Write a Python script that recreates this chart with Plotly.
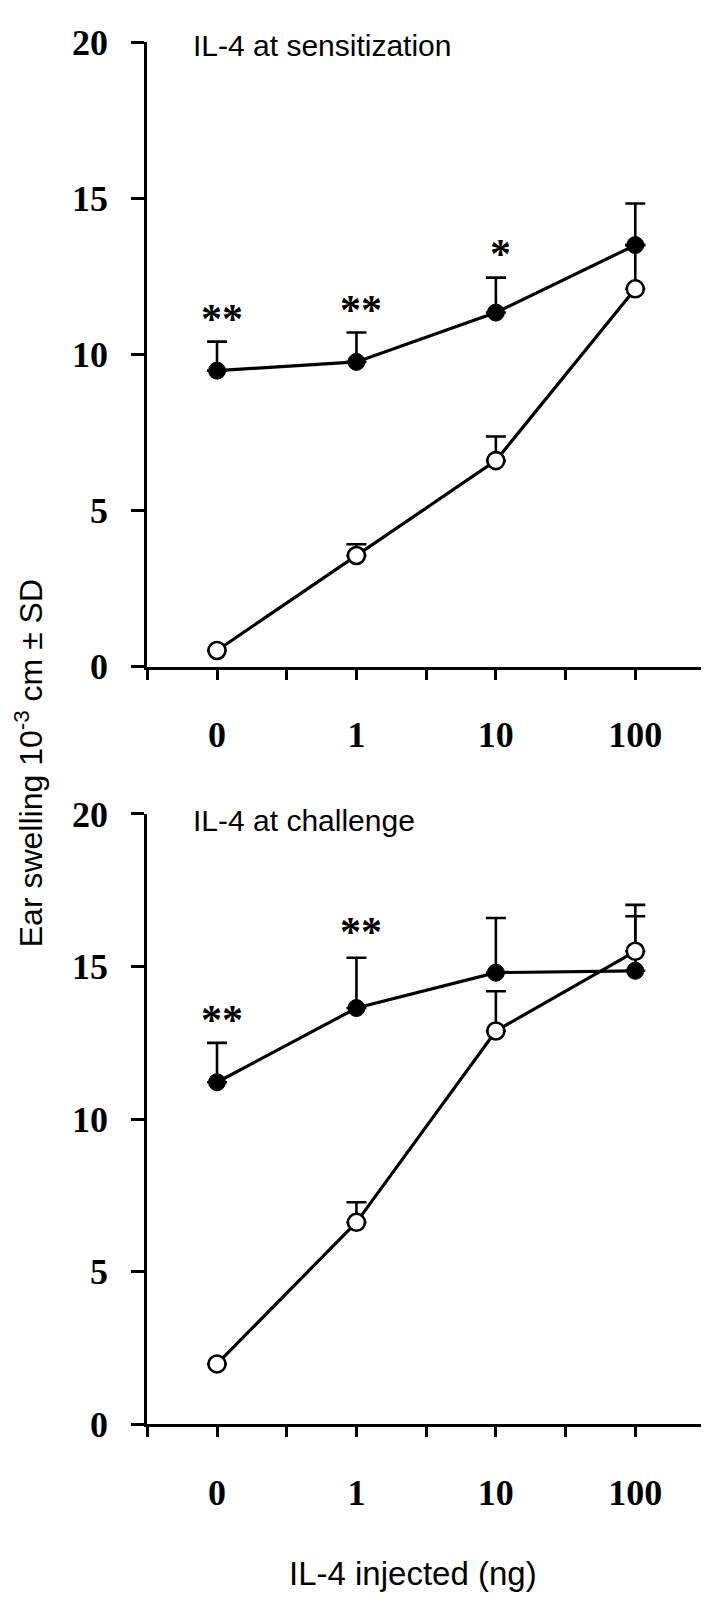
import plotly.graph_objects as go

# ---------------- data ----------------
doses = ["0", "1", "10", "100"]

sens_filled = [9.48, 9.76, 11.34, 13.50]
sens_filled_sd = [0.93, 0.94, 1.12, 1.33]
sens_open = [0.52, 3.56, 6.60, 12.10]
sens_open_sd = [None, 0.36, 0.77, 1.40]
sens_stars = ["**", "**", "*", ""]
sens_star_y = [11.50, 11.78, 13.58, None]

chal_filled = [11.21, 13.64, 14.80, 14.86]
chal_filled_sd = [1.29, 1.65, 1.79, 1.79]
chal_open = [1.98, 6.62, 12.89, 15.50]
chal_open_sd = [None, 0.66, 1.30, 1.52]
chal_stars = ["**", "**", "", ""]
chal_star_y = [13.60, 16.50, None, None]

yticks = [0, 5, 10, 15, 20]
panel_titles = ["IL-4 at sensitization", "IL-4 at challenge"]
y_title = "Ear swelling 10<sup>-3</sup> cm ± SD"
x_title = "IL-4 injected (ng)"

# ---------------- figure ----------------
W, H = 709, 1609
xpos = list(range(len(doses)))
minor_vals = [i - 0.5 for i in range(len(doses) + 1)]

serif = "Liberation Serif, Times New Roman, serif"
sans = "Liberation Sans, Arial, Helvetica, sans-serif"

fig = go.Figure()

panels = [
    dict(xa="x", ya="y", filled=sens_filled, fsd=sens_filled_sd, opn=sens_open, osd=sens_open_sd,
         stars=sens_stars, sy=sens_star_y),
    dict(xa="x2", ya="y2", filled=chal_filled, fsd=chal_filled_sd, opn=chal_open, osd=chal_open_sd,
         stars=chal_stars, sy=chal_star_y),
]

for p in panels:
    fig.add_trace(go.Scatter(
        x=xpos, y=p["filled"], xaxis=p["xa"], yaxis=p["ya"], mode="lines+markers",
        line=dict(color="black", width=3.2),
        marker=dict(symbol="circle", size=17, color="black", line=dict(color="black", width=1)),
        error_y=dict(type="data", array=p["fsd"], symmetric=False, arrayminus=[0] * 4,
                     color="black", thickness=2.6, width=10),
        showlegend=False, cliponaxis=False))
    fig.add_trace(go.Scatter(
        x=xpos, y=p["opn"], xaxis=p["xa"], yaxis=p["ya"], mode="lines+markers",
        line=dict(color="black", width=3.2),
        marker=dict(symbol="circle", size=17, color="white", line=dict(color="black", width=2.6)),
        error_y=dict(type="data", array=p["osd"], symmetric=False, arrayminus=[0] * 4,
                     color="black", thickness=2.6, width=10),
        showlegend=False, cliponaxis=False))

annotations = []
for p in panels:
    for i, (s, yv) in enumerate(zip(p["stars"], p["sy"])):
        if s:
            annotations.append(dict(
                x=xpos[i], y=yv, xref=p["xa"], yref=p["ya"], text=s, showarrow=False,
                xanchor="center", yanchor="middle", yshift=-11, xshift=5,
                font=dict(family=serif, size=42, color="black", weight="bold")))

annotations.append(dict(x=183 / W, y=1 - 19 / H, xref="paper", yref="paper", text=panel_titles[0],
                        showarrow=False, xanchor="left", yanchor="middle",
                        font=dict(family=sans, size=30, color="black")))
annotations.append(dict(x=183 / W, y=1 - 814 / H, xref="paper", yref="paper", text=panel_titles[1],
                        showarrow=False, xanchor="left", yanchor="middle",
                        font=dict(family=sans, size=30, color="black")))
annotations.append(dict(x=21 / W, y=1 - 755 / H, xref="paper", yref="paper", text=y_title,
                        showarrow=False, xanchor="center", yanchor="middle", textangle=-90,
                        font=dict(family=sans, size=32, color="black")))
annotations.append(dict(x=405 / W, y=1 - 1586 / H, xref="paper", yref="paper", text=x_title,
                        showarrow=False, xanchor="center", yanchor="middle",
                        font=dict(family=sans, size=33, color="black")))

xdom = [139.3 / W, 697 / W]
common_x = dict(range=[-0.5, len(doses) - 0.5], tickmode="array", tickvals=xpos, ticktext=doses,
                showline=True, linecolor="black", linewidth=3, ticks="outside", ticklen=10,
                tickwidth=3, tickcolor="black", showgrid=False, zeroline=False,
                minor=dict(tickmode="array", tickvals=minor_vals, ticks="outside", ticklen=10,
                           tickwidth=3, tickcolor="black", showgrid=False),
                tickfont=dict(family=serif, size=36, color="black", weight="bold"),
                ticklabelstandoff=24)
common_y = dict(range=[0, 20], tickmode="array", tickvals=yticks, ticktext=[str(v) for v in yticks],
                showline=True, linecolor="black", linewidth=3, ticks="outside", ticklen=13,
                tickwidth=3, tickcolor="black", showgrid=False, zeroline=False,
                tickfont=dict(family=serif, size=36, color="black", weight="bold"),
                ticklabelstandoff=16)

fig.update_layout(
    width=W, height=H, autosize=False,
    margin=dict(l=0, r=0, t=0, b=0),
    paper_bgcolor="white", plot_bgcolor="white",
    xaxis=dict(domain=xdom, anchor="y", **common_x),
    yaxis=dict(domain=[1 - 656 / H, 1 - 15.5 / H], anchor="x", **common_y),
    xaxis2=dict(domain=xdom, anchor="y2", **common_x),
    yaxis2=dict(domain=[1 - 1433 / H, 1 - 807 / H], anchor="x2", **common_y),
    annotations=annotations,
)

fig.write_html("out.html")
